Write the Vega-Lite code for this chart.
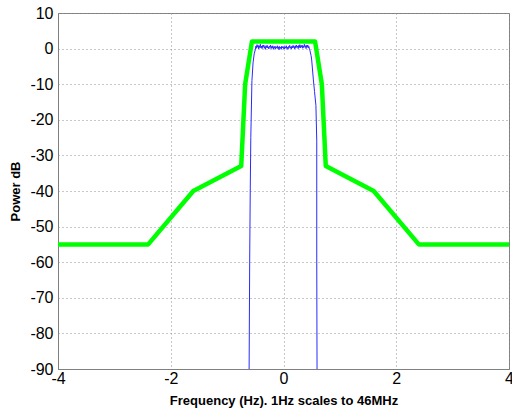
{
  "$schema": "https://vega.github.io/schema/vega-lite/v6.json",
  "autosize": "none",
  "width": 451,
  "height": 356,
  "padding": {"left": 58, "top": 13, "right": 3, "bottom": 43},
  "background": "white",
  "config": {
    "font": "Liberation Sans",
    "view": {"stroke": "#808080", "strokeWidth": 1},
    "axis": {
      "domainColor": "#808080",
      "ticks": false,
      "gridColor": "#909090",
      "gridDash": [1, 3],
      "gridOpacity": 1,
      "labelFont": "Liberation Sans",
      "labelFontSize": 16,
      "labelColor": "#000000",
      "titleFont": "Liberation Sans",
      "titleFontSize": 13,
      "titleFontWeight": "bold",
      "titleColor": "#000000"
    }
  },
  "datasets": {
    "signal": [
      {"f": -0.61, "p": -90}, {"f": -0.60, "p": -60}, {"f": -0.59, "p": -40}, {"f": -0.58, "p": -25},
      {"f": -0.56, "p": -9}, {"f": -0.54, "p": -4}, {"f": -0.52, "p": -1.5}, {"f": -0.50, "p": -0.3},
      {"f": -0.49, "p": 0.7}, {"f": -0.48, "p": 0.1}, {"f": -0.47, "p": 1.1}, {"f": -0.46, "p": 0.4},
      {"f": -0.45, "p": 0.9}, {"f": -0.44, "p": -0.1}, {"f": -0.43, "p": 0.8}, {"f": -0.42, "p": 0.3},
      {"f": -0.41, "p": 1.2}, {"f": -0.40, "p": 0.2}, {"f": -0.39, "p": 0.7}, {"f": -0.38, "p": 0.0},
      {"f": -0.37, "p": 0.9}, {"f": -0.36, "p": 0.5}, {"f": -0.35, "p": 1.0}, {"f": -0.34, "p": 0.1},
      {"f": -0.33, "p": 0.6}, {"f": -0.32, "p": -0.2}, {"f": -0.31, "p": 0.8}, {"f": -0.30, "p": 0.3},
      {"f": -0.29, "p": 0.9}, {"f": -0.28, "p": 0.2}, {"f": -0.27, "p": 0.5}, {"f": -0.26, "p": -0.1},
      {"f": -0.25, "p": 0.7}, {"f": -0.24, "p": 0.4}, {"f": -0.23, "p": 1.0}, {"f": -0.22, "p": 0.0},
      {"f": -0.21, "p": 0.6}, {"f": -0.20, "p": 0.2}, {"f": -0.19, "p": 0.8}, {"f": -0.18, "p": -0.2},
      {"f": -0.17, "p": 0.5}, {"f": -0.16, "p": 0.1}, {"f": -0.15, "p": 0.7}, {"f": -0.14, "p": -0.1},
      {"f": -0.13, "p": 0.4}, {"f": -0.12, "p": 0.2}, {"f": -0.11, "p": 0.8}, {"f": -0.10, "p": 0.0},
      {"f": -0.09, "p": 0.5}, {"f": -0.08, "p": -0.3}, {"f": -0.07, "p": 0.6}, {"f": -0.06, "p": 0.1},
      {"f": -0.05, "p": 0.4}, {"f": -0.04, "p": -0.2}, {"f": -0.03, "p": 0.7}, {"f": -0.02, "p": 0.2},
      {"f": -0.01, "p": 0.5}, {"f": 0.00, "p": 0.0}, {"f": 0.01, "p": 0.6}, {"f": 0.02, "p": -0.1},
      {"f": 0.03, "p": 0.5}, {"f": 0.04, "p": 0.2}, {"f": 0.05, "p": 0.8}, {"f": 0.06, "p": 0.0},
      {"f": 0.07, "p": 0.4}, {"f": 0.08, "p": -0.2}, {"f": 0.09, "p": 0.6}, {"f": 0.10, "p": 0.3},
      {"f": 0.11, "p": 0.9}, {"f": 0.12, "p": 0.1}, {"f": 0.13, "p": 0.5}, {"f": 0.14, "p": -0.1},
      {"f": 0.15, "p": 0.7}, {"f": 0.16, "p": 0.2}, {"f": 0.17, "p": 0.9}, {"f": 0.18, "p": 0.3},
      {"f": 0.19, "p": 0.6}, {"f": 0.20, "p": -0.1}, {"f": 0.21, "p": 0.8}, {"f": 0.22, "p": 0.2},
      {"f": 0.23, "p": 1.0}, {"f": 0.24, "p": 0.4}, {"f": 0.25, "p": 0.7}, {"f": 0.26, "p": 0.0},
      {"f": 0.27, "p": 0.9}, {"f": 0.28, "p": 0.3}, {"f": 0.29, "p": 1.1}, {"f": 0.30, "p": 0.2},
      {"f": 0.31, "p": 0.8}, {"f": 0.32, "p": 0.4}, {"f": 0.33, "p": 1.0}, {"f": 0.34, "p": 0.1},
      {"f": 0.35, "p": 0.7}, {"f": 0.36, "p": 0.3}, {"f": 0.37, "p": 1.2}, {"f": 0.38, "p": 0.5},
      {"f": 0.39, "p": 0.8}, {"f": 0.40, "p": 0.0}, {"f": 0.41, "p": 0.9}, {"f": 0.42, "p": 0.4},
      {"f": 0.43, "p": 1.0}, {"f": 0.44, "p": 0.2}, {"f": 0.45, "p": 0.6}, {"f": 0.46, "p": -0.2},
      {"f": 0.47, "p": -0.6}, {"f": 0.49, "p": -2}, {"f": 0.50, "p": -3.2}, {"f": 0.53, "p": -8.8},
      {"f": 0.55, "p": -12}, {"f": 0.575, "p": -16}, {"f": 0.59, "p": -26}, {"f": 0.59, "p": -60},
      {"f": 0.595, "p": -90}
    ],
    "mask": [
      {"i": 1, "f": -4, "p": -55}, {"i": 2, "f": -2.4, "p": -55}, {"i": 3, "f": -1.6, "p": -40},
      {"i": 4, "f": -0.75, "p": -33}, {"i": 5, "f": -0.68, "p": -10}, {"i": 6, "f": -0.56, "p": 2},
      {"i": 7, "f": 0.56, "p": 2}, {"i": 8, "f": 0.68, "p": -10}, {"i": 9, "f": 0.75, "p": -33},
      {"i": 10, "f": 1.6, "p": -40}, {"i": 11, "f": 2.4, "p": -55}, {"i": 12, "f": 4, "p": -55}
    ]
  },
  "encoding": {
    "x": {"field": "f", "type": "quantitative", "scale": {"domain": [-4, 4], "nice": false},
          "axis": {"values": [-4, -2, 0, 2, 4], "title": "Frequency (Hz). 1Hz scales to 46MHz", "labelPadding": 1, "titlePadding": 8, "labelFlush": false, "labelOverlap": false, "labelExpr": "'' + datum.value"}},
    "y": {"field": "p", "type": "quantitative", "scale": {"domain": [-90, 10], "nice": false},
          "axis": {"values": [-90, -80, -70, -60, -50, -40, -30, -20, -10, 0, 10], "title": "Power dB", "labelPadding": 5, "titlePadding": 7, "labelOverlap": false, "labelFlush": false, "labelExpr": "'' + datum.value"}}
  },
  "layer": [
    {
      "data": {"name": "signal"},
      "mark": {"type": "line", "color": "#2a2aff", "strokeWidth": 1, "clip": true},
      "encoding": {"order": {"field": "f", "type": "quantitative"}}
    },
    {
      "data": {"name": "mask"},
      "mark": {"type": "line", "color": "#00ff00", "strokeWidth": 4.5, "strokeJoin": "round", "clip": true},
      "encoding": {"order": {"field": "i", "type": "quantitative"}}
    }
  ]
}
